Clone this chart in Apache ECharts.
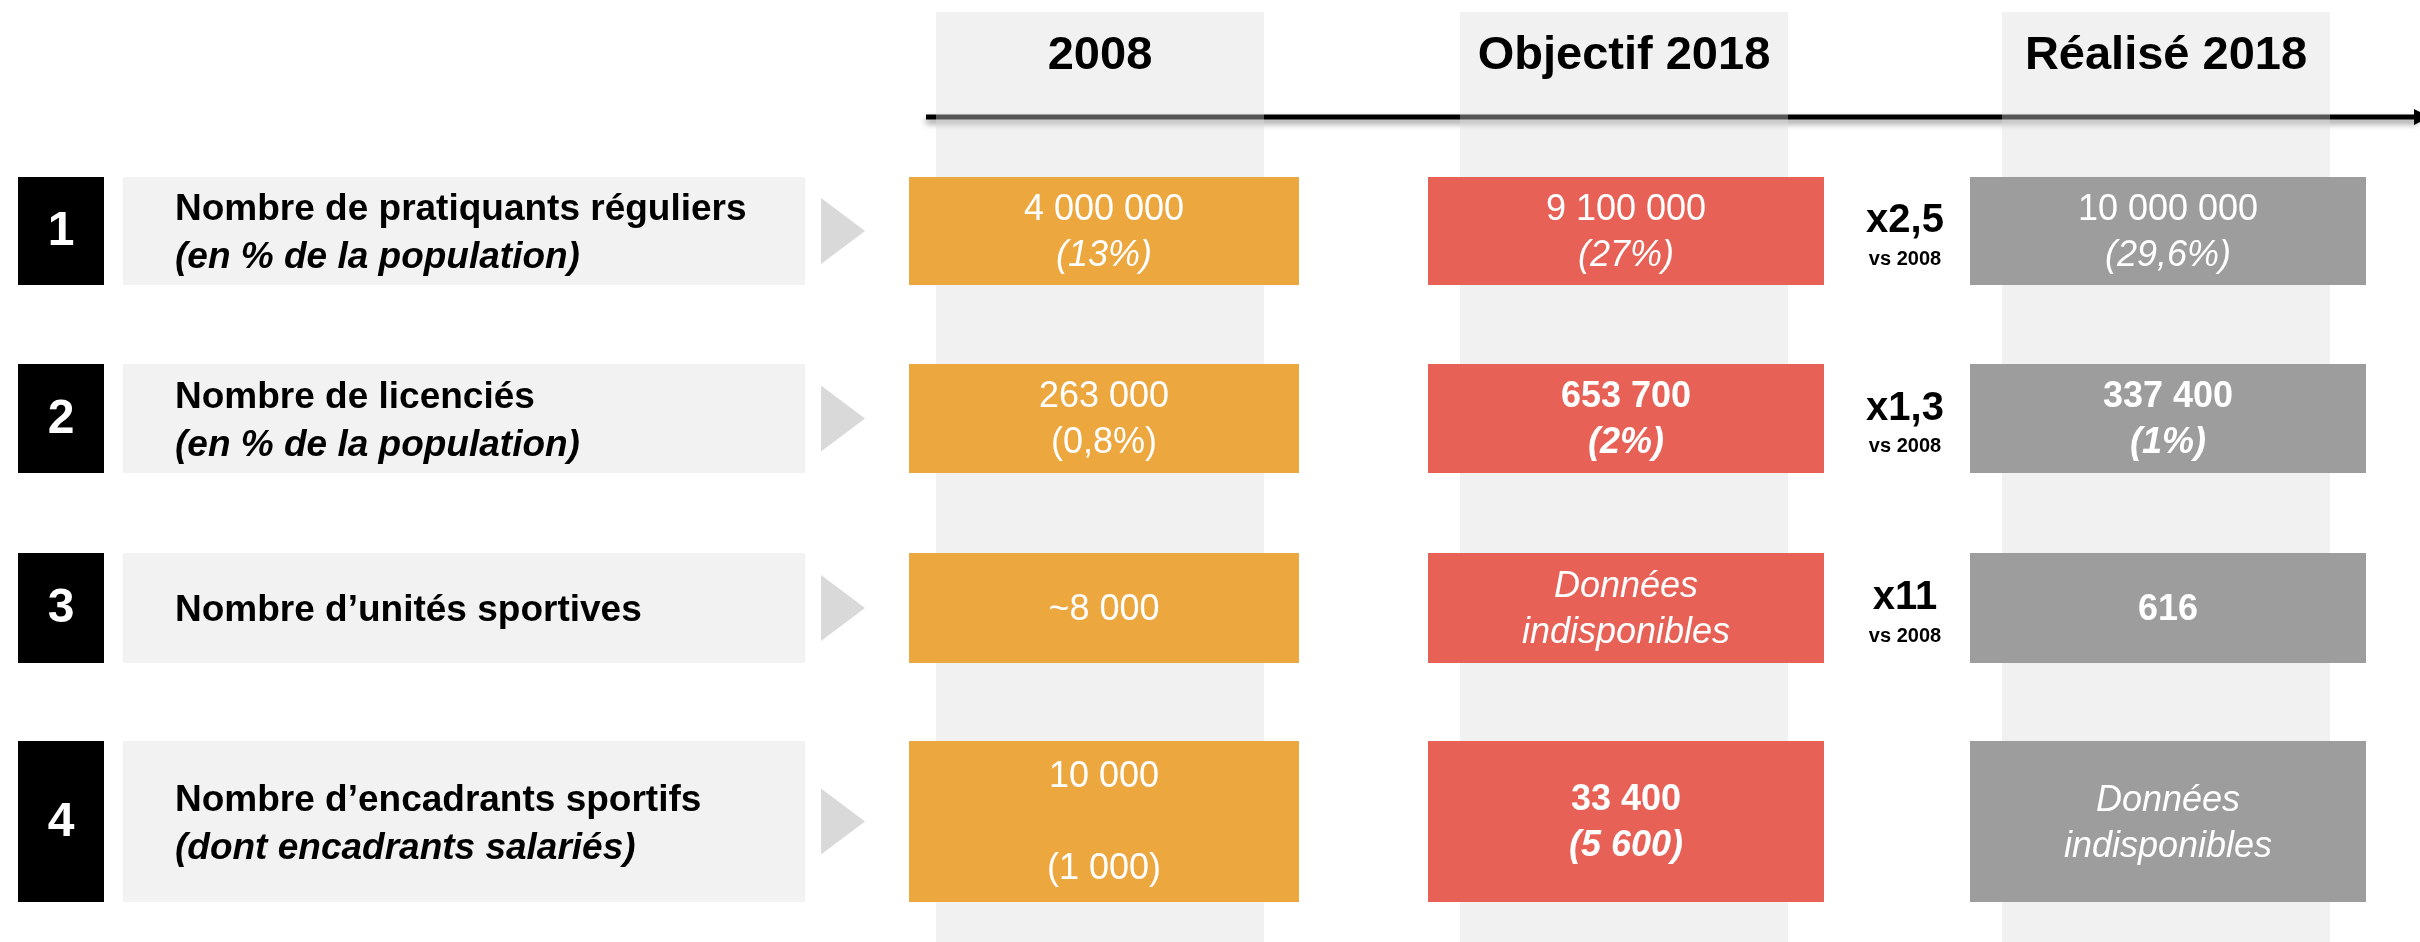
<!DOCTYPE html>
<html>
<head>
<meta charset="utf-8">
<title>Pratique sportive 2008 / 2018</title>
<script src="https://cdn.jsdelivr.net/npm/echarts@6/dist/echarts.min.js"></script>
<style>
  html, body { margin: 0; padding: 0; background: #fff; }
  #chart { width: 2420px; height: 942px; }
</style>
</head>
<body>
<div id="chart"></div>
<script>
// --- données ---
const columnHeaders = ['2008', 'Objectif 2018', 'Réalisé 2018'];
const rowNumbers = ['1', '2', '3', '4'];
const rowLabels = [
  ['Nombre de pratiquants réguliers', '(en % de la population)'],
  ['Nombre de licenciés', '(en % de la population)'],
  ['Nombre d’unités sportives'],
  ['Nombre d’encadrants sportifs', '(dont encadrants salariés)']
];
const values2008 = [['4 000 000', '(13%)'], ['263 000', '(0,8%)'], ['~8 000'], ['10 000', '', '(1 000)']];
const valuesObjectif = [['9 100 000', '(27%)'], ['653 700', '(2%)'], ['Données', 'indisponibles'], ['33 400', '(5 600)']];
const valuesRealise = [['10 000 000', '(29,6%)'], ['337 400', '(1%)'], ['616'], ['Données', 'indisponibles']];
const multipliers = ['x2,5', 'x1,3', 'x11', ''];
const multiplierBase = 'vs 2008';

// --- mise en page (px) ---
const W = 2420, H = 942;
const FONT = '"Liberation Sans", Arial, Helvetica, sans-serif';
const rowBands = [[177, 285], [364, 473], [553, 663], [741, 902]];
const columnBands = [[936, 1264], [1460, 1788], [2002, 2330]];
const valueBoxes = [[909, 1299], [1428, 1824], [1970, 2366]];
const boxColors = ['#eba133', '#e5574b', '#979797'];
// n normal, i italique, b gras, bi gras italique
const lineFonts = [
  [['n', 'i'], ['n', 'n'], ['n'], ['n', 'n', 'n']],
  [['n', 'i'], ['b', 'bi'], ['i', 'i'], ['b', 'bi']],
  [['n', 'i'], ['b', 'bi'], ['b'], ['i', 'i']]
];

const valueRich = {
  n: { fontSize: 36, fontFamily: FONT, fill: '#fff', lineHeight: 46 },
  i: { fontSize: 36, fontFamily: FONT, fill: '#fff', lineHeight: 46, fontStyle: 'italic' },
  b: { fontSize: 36, fontFamily: FONT, fill: '#fff', lineHeight: 46, fontWeight: 'bold' },
  bi: { fontSize: 36, fontFamily: FONT, fill: '#fff', lineHeight: 46, fontWeight: 'bold', fontStyle: 'italic' }
};
const labelRich = {
  l: { fontSize: 37, fontFamily: FONT, fill: '#000', lineHeight: 48, fontWeight: 'bold' },
  li: { fontSize: 37, fontFamily: FONT, fill: '#000', lineHeight: 48, fontWeight: 'bold', fontStyle: 'italic' }
};

const chart = echarts.init(document.getElementById('chart'));

function rectFrom(api, x0, y0, x1, y1) {
  const a = api.coord([x0, y0]);
  const b = api.coord([x1, y1]);
  return { x: a[0], y: a[1], width: b[0] - a[0], height: b[1] - a[1] };
}

// flèche du temps
const timelineSeries = {
  type: 'custom', z: 1, silent: true,
  data: [[0, 0]],
  renderItem: (params, api) => {
    const a = api.coord([926, 117]);
    const b = api.coord([2418, 117]);
    return {
      type: 'group',
      children: [
        { type: 'line', shape: { x1: a[0], y1: a[1], x2: b[0], y2: b[1] },
          style: { stroke: '#000', lineWidth: 5, shadowBlur: 6, shadowOffsetY: 4, shadowColor: 'rgba(0,0,0,0.45)' } },
        { type: 'polygon', shape: { points: [[b[0] - 4, b[1] - 8], [b[0] + 12, b[1]], [b[0] - 4, b[1] + 8]] },
          style: { fill: '#000' } }
      ]
    };
  }
};

// colonnes grises + en-têtes
const columnSeries = {
  type: 'custom', z: 2, silent: true,
  data: columnHeaders.map((h, i) => [i, 0]),
  renderItem: (params, api) => {
    const c = api.value(0);
    const [x0, x1] = columnBands[c];
    const r = rectFrom(api, x0, 12, x1, H);
    return {
      type: 'group',
      children: [
        { type: 'rect', shape: r, style: { fill: '#dadada', opacity: 0.39 } },
        { type: 'text', style: { x: r.x + r.width / 2, y: api.coord([0, 56])[1], text: columnHeaders[c],
          align: 'center', verticalAlign: 'middle', fill: '#000',
          font: 'bold 47px ' + FONT } }
      ]
    };
  }
};

// numéros, libellés et triangles
const labelSeries = {
  type: 'custom', z: 3, silent: true,
  data: rowNumbers.map((n, i) => [i, 0]),
  renderItem: (params, api) => {
    const i = api.value(0);
    const [y0, y1] = rowBands[i];
    const sq = rectFrom(api, 18, y0, 104, y1);
    const lb = rectFrom(api, 123, y0, 805, y1);
    const cy = sq.y + sq.height / 2;
    const tx = api.coord([821, 0])[0], tip = api.coord([865, 0])[0];
    const text = rowLabels[i].map((t, k) => '{' + (k === 0 ? 'l' : 'li') + '|' + t + '}').join('\n');
    return {
      type: 'group',
      children: [
        { type: 'rect', shape: sq, style: { fill: '#000' } },
        { type: 'text', style: { x: sq.x + sq.width / 2, y: cy + 1, text: rowNumbers[i], align: 'center',
          verticalAlign: 'middle', fill: '#fff', font: 'bold 48px ' + FONT } },
        { type: 'rect', shape: lb, style: { fill: '#f2f2f2' } },
        { type: 'text', style: { x: api.coord([175, 0])[0], y: cy + 3, text: text, align: 'left',
          verticalAlign: 'middle', rich: labelRich } },
        { type: 'polygon', shape: { points: [[tx, cy - 33], [tip, cy], [tx, cy + 33]] }, style: { fill: '#d9d9d9' } }
      ]
    };
  }
};

function valueSeries(c, values) {
  return {
    type: 'custom', z: 4, silent: true,
    data: values.map((v, i) => [i, c]),
    renderItem: (params, api) => {
      const i = api.value(0);
      const [y0, y1] = rowBands[i];
      const [x0, x1] = valueBoxes[c];
      const r = rectFrom(api, x0, y0, x1, y1);
      const text = values[i].map((t, k) => '{' + lineFonts[c][i][k] + '|' + (t || ' ') + '}').join('\n');
      return {
        type: 'group',
        children: [
          { type: 'rect', shape: r, style: { fill: boxColors[c], opacity: 0.94 } },
          { type: 'text', style: { x: r.x + r.width / 2, y: r.y + r.height / 2 + 2, text: text,
            align: 'center', verticalAlign: 'middle', rich: valueRich } }
        ]
      };
    }
  };
}

// multiplicateurs
const multiplierSeries = {
  type: 'custom', z: 4, silent: true,
  data: multipliers.map((m, i) => [i, 0]),
  renderItem: (params, api) => {
    const i = api.value(0);
    if (!multipliers[i]) return null;
    const [y0, y1] = rowBands[i];
    const cy = (api.coord([0, y0])[1] + api.coord([0, y1])[1]) / 2;
    const cx = api.coord([1905, 0])[0];
    return {
      type: 'group',
      children: [
        { type: 'text', style: { x: cx, y: cy - 10, text: multipliers[i], align: 'center', verticalAlign: 'middle',
          fill: '#000', font: 'bold 40px ' + FONT } },
        { type: 'text', style: { x: cx, y: cy + 28, text: multiplierBase, align: 'center', verticalAlign: 'middle',
          fill: '#000', font: 'bold 20px ' + FONT } }
      ]
    };
  }
};

chart.setOption({
  animation: false,
  backgroundColor: '#fff',
  grid: { left: 0, right: 0, top: 0, bottom: 0 },
  xAxis: { type: 'value', min: 0, max: W, show: false },
  yAxis: { type: 'value', min: 0, max: H, inverse: true, show: false },
  series: [
    timelineSeries,
    columnSeries,
    labelSeries,
    valueSeries(0, values2008),
    valueSeries(1, valuesObjectif),
    valueSeries(2, valuesRealise),
    multiplierSeries
  ]
});
window.addEventListener('resize', () => chart.resize());
</script>
</body>
</html>
